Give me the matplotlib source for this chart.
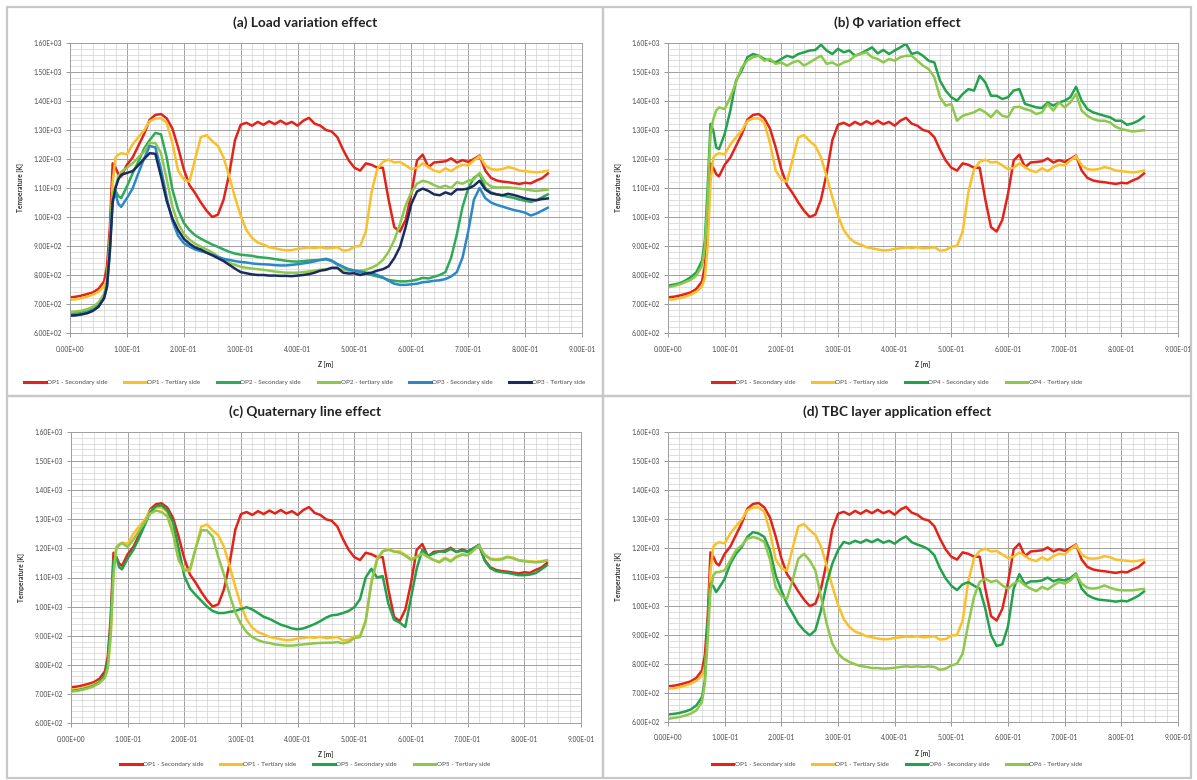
import numpy as np
import matplotlib
matplotlib.use('Agg')
import matplotlib.pyplot as plt
from matplotlib.patches import Rectangle
from matplotlib.ticker import MultipleLocator, FormatStrFormatter

plt.rcParams['font.family'] = ['Lato', 'DejaVu Sans']

# axial position z [m]
Z = [0.00, 0.01, 0.02, 0.03, 0.04, 0.05, 0.06, 0.065, 0.07, 0.075, 0.08, 0.085, 0.09,
     0.10, 0.11, 0.12, 0.13, 0.14, 0.15, 0.16, 0.17, 0.18, 0.19,
     0.20, 0.21, 0.22, 0.23, 0.24, 0.25, 0.26, 0.27, 0.28, 0.29,
     0.30, 0.31, 0.32, 0.33, 0.34, 0.35, 0.36, 0.37, 0.38, 0.39,
     0.40, 0.41, 0.42, 0.43, 0.44, 0.45, 0.46, 0.47, 0.48, 0.49,
     0.50, 0.51, 0.52, 0.53, 0.54, 0.55, 0.56, 0.57, 0.58, 0.59,
     0.60, 0.61, 0.62, 0.63, 0.64, 0.65, 0.66, 0.67, 0.68, 0.69,
     0.70, 0.71, 0.72, 0.73, 0.74, 0.75, 0.76, 0.77, 0.78, 0.79,
     0.80, 0.81, 0.82, 0.83, 0.84]

# temperatures [K]
op1_sec = [723, 725, 729, 734, 740, 752, 778, 830, 960, 1185, 1170, 1148, 1140,
           1180, 1205, 1245, 1285, 1335, 1352, 1355, 1340, 1305, 1240,
           1165, 1110, 1082, 1050, 1022, 1000, 1008, 1060, 1150, 1265,
           1318, 1325, 1315, 1328, 1318, 1330, 1320, 1332, 1320, 1328,
           1315, 1332, 1342, 1322, 1315, 1300, 1295, 1275, 1232, 1195,
           1170, 1160, 1185, 1180, 1170, 1170, 1060, 965, 950, 990,
           1080, 1195, 1215, 1172, 1188, 1190, 1192, 1202, 1188, 1196,
           1190, 1200, 1212, 1160, 1135, 1126, 1122, 1120, 1117, 1114,
           1118, 1116, 1126, 1134, 1150]
op1_ter = [715, 716, 720, 725, 732, 742, 760, 790, 900, 1120, 1205, 1215, 1220,
           1216, 1250, 1275, 1298, 1330, 1340, 1340, 1325, 1255, 1160,
           1130, 1122, 1200, 1275, 1282, 1262, 1245, 1205, 1140, 1068,
           1005, 955, 928, 912, 905, 896, 892, 888, 885, 886,
           890, 892, 895, 893, 896, 892, 893, 896, 884, 886,
           898, 900, 950, 1085, 1165, 1190, 1198, 1188, 1190, 1178,
           1165, 1170, 1185, 1172, 1160, 1155, 1168, 1158, 1172, 1180,
           1178, 1195, 1210, 1178, 1165, 1163, 1165, 1172, 1168, 1160,
           1158, 1156, 1154, 1156, 1160]
op2_sec = [668, 670, 673, 678, 685, 700, 730, 770, 900, 1080, 1090, 1072, 1065,
           1105, 1150, 1190, 1235, 1265, 1290, 1285, 1205, 1095, 1025,
           980, 955, 937, 925, 915, 905, 897, 888, 880, 874,
           870, 868, 866, 862, 860, 858, 855, 852, 849, 847,
           846, 848, 850, 851, 852, 854, 848, 836, 828, 820,
           816, 810, 806, 800, 795, 790, 783, 780, 778, 778,
           780, 784, 790, 788, 794, 800, 810, 860, 940, 1035,
           1099, 1135, 1148, 1100, 1085, 1078, 1074, 1070, 1066, 1060,
           1056, 1052, 1058, 1068, 1078]
op2_ter = [672, 674, 677, 682, 690, 705, 735, 780, 920, 1080, 1105, 1140, 1155,
           1170, 1185, 1205, 1225, 1255, 1255, 1220, 1130, 1035, 978,
           942, 922, 908, 898, 888, 878, 865, 852, 842, 835,
           828, 825, 822, 820, 818, 815, 812, 810, 808, 808,
           808, 810, 812, 815, 818, 820, 822, 822, 818, 815,
           815, 815, 818, 825, 835, 852, 880, 920, 975, 1040,
           1085, 1115, 1125, 1120, 1110, 1102, 1108, 1100, 1120, 1115,
           1125, 1130, 1152, 1120, 1105, 1102, 1102, 1102, 1100, 1098,
           1095, 1092, 1090, 1092, 1095]
op3_sec = [660, 662, 665, 670, 678, 692, 722, 760, 880, 1060, 1080, 1045, 1035,
           1065, 1098, 1150, 1200, 1245, 1240, 1165, 1067, 986, 935,
           910, 898, 888, 882, 877, 870, 862, 856, 852, 848,
           845, 843, 840, 838, 837, 836, 834, 833, 833, 835,
           837, 840, 843, 847, 852, 856, 850, 838, 828, 818,
           815, 812, 808, 806, 800, 792, 780, 770, 766, 766,
           768, 770, 775, 777, 780, 782, 786, 795, 810, 860,
           950, 1060, 1100, 1065, 1050, 1042, 1036, 1030, 1024, 1020,
           1015, 1005, 1012, 1022, 1032]
op3_ter = [660, 661, 664, 668, 676, 690, 720, 760, 880, 1050, 1100, 1130, 1145,
           1152, 1158, 1178, 1200, 1220, 1218, 1140, 1055, 995, 955,
           925, 908, 895, 888, 877, 868, 858, 848, 835, 822,
           810, 806, 802, 800, 800, 798, 798, 797, 797, 796,
           798, 800, 803, 808, 815, 818, 825, 825, 808, 805,
           806, 800, 805, 808, 815, 820, 830, 858, 897, 965,
           1045, 1088, 1098, 1090, 1078, 1075, 1085, 1078, 1095, 1095,
           1098, 1108, 1125, 1095, 1082, 1078, 1075, 1080, 1076, 1070,
           1064, 1060, 1058, 1062, 1064]
op4_sec = [763, 767, 771, 780, 792, 809, 849, 918, 1102, 1321, 1298, 1240, 1234,
           1286, 1367, 1470, 1505, 1551, 1562, 1556, 1545, 1539, 1533,
           1545, 1556, 1550, 1562, 1568, 1574, 1576, 1594, 1574, 1562,
           1580, 1568, 1574, 1556, 1564, 1574, 1585, 1564, 1576, 1562,
           1574, 1585, 1597, 1562, 1568, 1556, 1539, 1533, 1470, 1436,
           1413, 1401, 1424, 1441, 1436, 1487, 1464, 1418, 1418, 1407,
           1413, 1436, 1441, 1390, 1384, 1378, 1376, 1395, 1384, 1395,
           1401, 1413, 1449, 1401, 1372, 1361, 1355, 1349, 1344, 1332,
           1332, 1318, 1323, 1332, 1346]
op4_ter = [757, 762, 767, 775, 783, 798, 832, 895, 1056, 1286, 1338, 1367, 1378,
           1372, 1413, 1464, 1516, 1539, 1551, 1556, 1539, 1545, 1528,
           1533, 1522, 1533, 1539, 1522, 1533, 1545, 1556, 1528, 1533,
           1522, 1533, 1539, 1556, 1562, 1568, 1551, 1545, 1533, 1545,
           1539, 1551, 1556, 1556, 1539, 1522, 1510, 1482, 1413, 1384,
           1390, 1332, 1349, 1355, 1361, 1372, 1361, 1344, 1367, 1349,
           1344, 1378, 1380, 1372, 1367, 1355, 1361, 1390, 1367, 1395,
           1378, 1395, 1424, 1367, 1349, 1338, 1332, 1332, 1326, 1311,
           1303, 1299, 1295, 1297, 1299]
op5_sec = [710, 712, 716, 721, 728, 740, 765, 810, 940, 1160, 1170, 1135, 1128,
           1165, 1195, 1235, 1280, 1325, 1345, 1348, 1330, 1290, 1200,
           1105, 1062, 1040, 1020, 1000, 985, 978, 978, 982, 985,
           992, 998, 990, 978, 965, 958, 948, 938, 932, 925,
           922, 925, 932, 940, 950, 962, 970, 972, 978, 985,
           998, 1025, 1100, 1130, 1100, 1105, 1010, 955, 945, 930,
           1030, 1130, 1195, 1175, 1182, 1190, 1188, 1198, 1188, 1192,
           1188, 1200, 1212, 1158, 1132, 1122, 1118, 1116, 1112, 1108,
           1108, 1110, 1115, 1128, 1142]
op5_ter = [708, 710, 714, 719, 726, 737, 756, 790, 900, 1110, 1200, 1212, 1218,
           1205, 1230, 1260, 1290, 1320, 1330, 1325, 1310, 1250, 1160,
           1122, 1130, 1200, 1262, 1262, 1240, 1170, 1110, 1040, 980,
           940, 912, 895, 885, 878, 875, 870, 868, 866, 866,
           868, 870, 872, 874, 875, 876, 876, 878, 874, 878,
           892, 895, 950, 1080, 1160, 1190, 1195, 1190, 1185, 1175,
           1160, 1170, 1182, 1170, 1160, 1152, 1165, 1155, 1170, 1178,
           1176, 1192, 1210, 1178, 1163, 1160, 1162, 1170, 1166, 1158,
           1156, 1154, 1152, 1154, 1158]
op6_sec = [626, 628, 631, 636, 643, 657, 686, 744, 939, 1077, 1068, 1048, 1062,
           1094, 1146, 1180, 1203, 1238, 1255, 1250, 1238, 1192, 1106,
           1054, 1007, 974, 939, 916, 899, 916, 985, 1077, 1146,
           1192, 1221, 1215, 1225, 1218, 1228, 1220, 1230, 1218, 1225,
           1215, 1230, 1240, 1220, 1212, 1205, 1195, 1175, 1130, 1095,
           1070, 1055, 1075, 1082, 1070, 1060, 990, 900, 862, 868,
           930, 1060, 1110, 1075, 1085, 1085, 1088, 1098, 1085, 1092,
           1088, 1096, 1112, 1060, 1038, 1028, 1022, 1020, 1018, 1015,
           1018, 1016, 1025, 1035, 1050]
op6_ter = [611, 614, 617, 622, 629, 640, 669, 732, 882, 1054, 1106, 1117, 1117,
           1123, 1157, 1192, 1209, 1232, 1238, 1232, 1221, 1160, 1065,
           1035, 1025, 1090, 1163, 1180, 1157, 1123, 1031, 939, 870,
           836, 818, 807, 799, 793, 790, 786, 786, 784, 785,
           787, 790, 792, 790, 792, 790, 792, 790, 780, 784,
           795, 801, 836, 939, 1031, 1083, 1094, 1083, 1088, 1071,
           1060, 1077, 1088, 1071, 1060, 1051, 1066, 1057, 1071, 1083,
           1077, 1088, 1109, 1077, 1063, 1060, 1063, 1071, 1063, 1057,
           1054, 1054, 1054, 1057, 1059]

RED = '#e2231a'
YEL = '#f9c02c'
GRN = '#23a24e'
LGR = '#8dc84c'
BLU = '#2b87c8'
NAV = '#1c2a5e'

panels = [
    ('(a) Load variation effect',
     [(op1_sec, RED, 'OP1 - Secondary side'), (op1_ter, YEL, 'OP1 - Tertiary side'),
      (op2_sec, '#2eaa5a', 'OP2 - Secondary side'), (op2_ter, LGR, 'OP2 - tertiary side'),
      (op3_sec, BLU, 'OP3 - Secondary side'), (op3_ter, NAV, 'OP3 - Tertiary side')]),
    ('(b) \u03a6 variation effect',
     [(op1_sec, RED, 'OP1 - Secondary side'), (op1_ter, YEL, 'OP1 - Tertiary side'),
      (op4_sec, GRN, 'OP4 - Secondary side'), (op4_ter, LGR, 'OP4 - Tertiary side')]),
    ('(c) Quaternary line effect',
     [(op1_sec, RED, 'OP1 - Secondary side'), (op1_ter, YEL, 'OP1 - Tertiary side'),
      (op5_sec, GRN, 'OP5 - Secondary side'), (op5_ter, LGR, 'OP5 - Tertiary side')]),
    ('(d) TBC layer application effect',
     [(op1_sec, RED, 'OP1 - Secondary side'), (op1_ter, YEL, 'OP1 - Tertiary Side'),
      (op6_sec, GRN, 'OP6 - Secondary side'), (op6_ter, LGR, 'OP6 - Tertiary side')]),
]

W, H = 1197, 780
fig = plt.figure(figsize=(W / 100, H / 100), dpi=100)

# panel frames in pixels (x0, y0, x1, y1), y from top
frames = [(7, 7, 603, 396), (603, 7, 1191, 396), (7, 396, 603, 778), (603, 396, 1191, 778)]
# plot areas in pixels (left, top, right, bottom)
areas = [(70, 43, 582, 333), (668, 43, 1178, 333), (71, 432, 581, 723), (668, 432, 1178, 722)]

for (title, series), fr, ar in zip(panels, frames, areas):
    x0, y0, x1, y1 = fr
    fig.add_artist(Rectangle((x0 / W, 1 - y1 / H), (x1 - x0) / W, (y1 - y0) / H,
                             transform=fig.transFigure, fill=False,
                             edgecolor='#c8c8c8', lw=1.6))
    l, t, r, b = ar
    ax = fig.add_axes([l / W, 1 - b / H, (r - l) / W, (b - t) / H])
    for vals, col, lab in series:
        ax.plot(Z, vals, color=col, lw=1.8, label=lab, solid_joinstyle='round')

    ax.set_xlim(0, 0.9)
    ax.set_ylim(600, 1600)
    ax.xaxis.set_major_locator(MultipleLocator(0.1))
    ax.xaxis.set_minor_locator(MultipleLocator(0.02))
    ax.yaxis.set_major_locator(MultipleLocator(100))
    ax.yaxis.set_minor_locator(MultipleLocator(20))
    ax.xaxis.set_major_formatter(FormatStrFormatter('%.2E'))
    ax.yaxis.set_major_formatter(FormatStrFormatter('%.2E'))
    ax.grid(which='major', color='#a0a0a0', lw=0.7)
    ax.grid(which='minor', color='#d2d2d2', lw=0.5)
    ax.set_axisbelow(True)
    for s in ax.spines.values():
        s.set_color('#a0a0a0')
        s.set_linewidth(0.7)
    ax.tick_params(which='major', labelsize=4.8, labelcolor='#4a4a4a', color='#8c8c8c',
                   length=3, width=0.6)
    ax.tick_params(axis='y', pad=3)
    ax.tick_params(axis='x', pad=6)
    ax.tick_params(which='minor', length=0)

    ax.set_xlabel('Z [m]', fontsize=4.8, fontweight='bold', color='#333333')
    ax.set_ylabel('Temperature [K]', fontsize=4.8, fontweight='bold', color='#333333')
    ax.xaxis.set_label_coords(0.5, -28 / (b - t), transform=ax.transAxes)
    ax.yaxis.set_label_coords(-46 / (r - l), 0.5, transform=ax.transAxes)

    cx = (x0 + x1) / 2 / W
    fig.text(cx, 1 - (y0 + 16) / H, title, ha='center', va='center',
             fontsize=9.8, fontweight='bold', color='#222222')
    ax.legend(loc='center', bbox_to_anchor=(cx, 1 - (y1 - 14) / H),
              bbox_transform=fig.transFigure, ncol=len(series), frameon=False,
              fontsize=4.6, handlelength=3.4, handletextpad=0.2, columnspacing=2.6,
              labelcolor='#4a4a4a')
    for ln in ax.get_legend().get_lines():
        ln.set_linewidth(2.2)

fig.savefig('out.png', dpi=100, facecolor='white')
